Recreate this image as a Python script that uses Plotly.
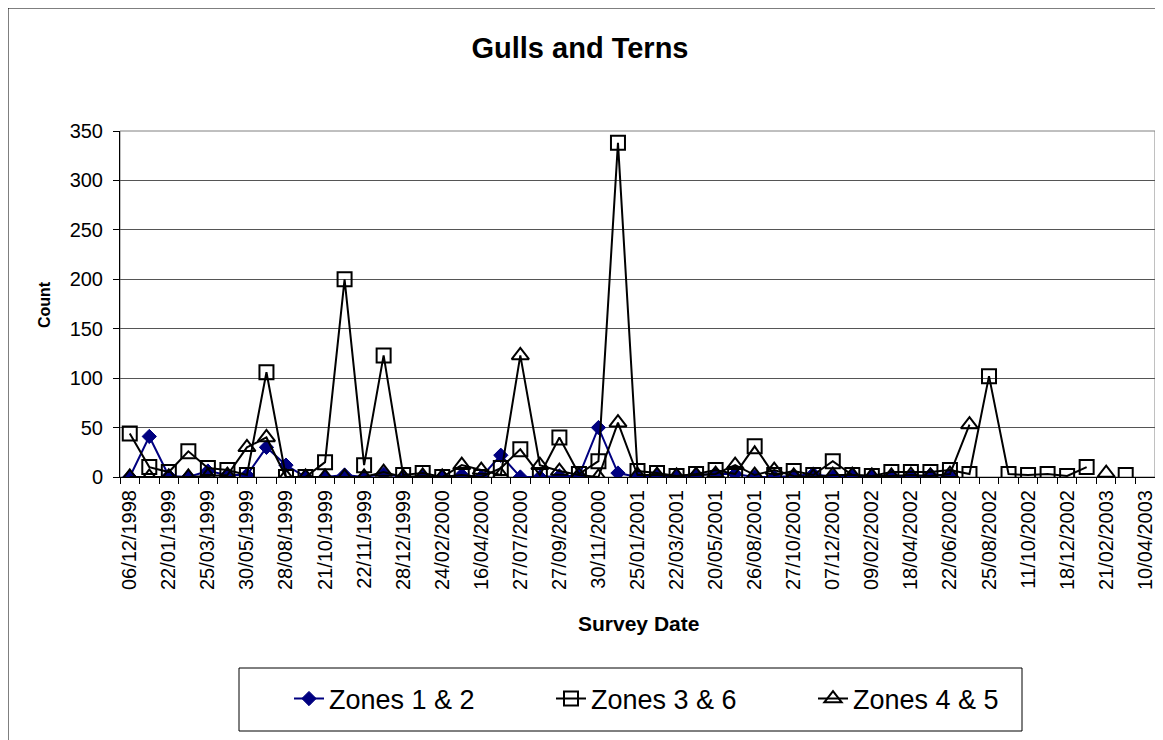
import plotly.graph_objects as go

survey_dates = [
    "06/12/1998", "31/12/1998", "22/01/1999", "21/02/1999", "25/03/1999", "26/04/1999",
    "30/05/1999", "30/06/1999", "28/08/1999", "22/09/1999", "21/10/1999", "07/11/1999",
    "22/11/1999", "05/12/1999", "28/12/1999", "27/01/2000", "24/02/2000", "20/03/2000",
    "16/04/2000", "18/06/2000", "27/07/2000", "28/08/2000", "27/09/2000", "29/10/2000",
    "30/11/2000", "20/12/2000", "25/01/2001", "22/02/2001", "22/03/2001", "23/04/2001",
    "20/05/2001", "24/07/2001", "26/08/2001", "25/09/2001", "27/10/2001", "19/11/2001",
    "07/12/2001", "10/01/2002", "09/02/2002", "14/03/2002", "18/04/2002", "20/05/2002",
    "22/06/2002", "27/07/2002", "25/08/2002", "20/09/2002", "11/10/2002", "15/11/2002",
    "18/12/2002", "20/01/2003", "21/02/2003", "15/03/2003", "10/04/2003",
]

zones_1_2 = [
    0, 41, 1, 0, 6, 2, 2, 30, 12, 0, 0, 2, 0, 3, 0, 0, 0, 2, 0, 22,
    0, 0, 1, 1, 50, 4, 0, 1, 0, 2, 3, 3, 0, 0, 1, 3, 0, 1, 0, 1,
    0, 2, 1, None, None, None, None, None, None, None, None, None, None,
]

zones_3_6 = [
    44, 10, 5, 26, 9, 7, 2, 106, 0, 0, 15, 200, 12, 123, 2, 4, 0, 2, 0, 9,
    28, 2, 40, 3, 16, 338, 6, 4, 1, 3, 7, 3, 31, 2, 6, 2, 16, 2, 1, 5,
    5, 5, 7, 3, 102, 3, 2, 3, 1, 10, None, 2, None,
]

zones_4_5 = [
    0, 0, 0, 0, 1, 2, 30, 40, 0, 0, 0, 0, 0, 5, 0, 1, 0, 12, 7, 2,
    123, 12, 6, 2, 0, 55, 2, 2, 1, 2, 3, 12, 2, 7, 1, 0, 2, 2, 1, 1,
    2, 1, 3, 53, None, None, None, None, None, None, 4, None, None,
]

tick_text = [d if i % 2 == 0 else "" for i, d in enumerate(survey_dates)]

FONT = "Arial, Liberation Sans, sans-serif"

# the page body adds an 8px margin; work in page pixels and convert
OFF = 8
PAGE_W, PAGE_H = 1163, 740
W, H = PAGE_W - OFF, PAGE_H - OFF
L, R, T, B = 120 - OFF, 1155 - OFF, 131 - OFF, 477 - OFF
pw, ph = R - L, B - T


def px_x(x):
    return (x - OFF - L) / pw


def px_y(y):
    return (B - (y - OFF)) / ph


fig = go.Figure()

fig.add_trace(go.Scatter(
    x=survey_dates, y=zones_1_2, name="Zones 1 & 2", mode="lines+markers",
    line=dict(color="#000080", width=2),
    marker=dict(symbol="diamond", size=11, color="#000080",
                line=dict(color="#000080", width=1)),
))
fig.add_trace(go.Scatter(
    x=survey_dates, y=zones_3_6, name="Zones 3 & 6", mode="lines+markers",
    line=dict(color="black", width=2),
    marker=dict(symbol="square-open", size=14, color="black",
                line=dict(color="black", width=2)),
))
fig.add_trace(go.Scatter(
    x=survey_dates, y=zones_4_5, name="Zones 4 & 5", mode="lines+markers",
    line=dict(color="black", width=2),
    marker=dict(symbol="triangle-up-open", size=15, color="black",
                line=dict(color="black", width=2)),
))

fig.update_layout(
    width=W, height=H,
    margin=dict(l=L, r=W - R, t=T, b=H - B, autoexpand=False),
    paper_bgcolor="white", plot_bgcolor="white",
    font=dict(family=FONT, color="black", size=20),
    title=dict(text="<b>Gulls and Terns</b>", x=(580 - OFF) / W, xanchor="center",
               y=1 - (48 - OFF) / H, yanchor="middle", yref="container",
               font=dict(size=29, family=FONT, color="black")),
    showlegend=True,
    legend=dict(orientation="h", x=px_x(289), xanchor="left",
                y=px_y(699), yanchor="middle", bgcolor="rgba(0,0,0,0)",
                borderwidth=0, font=dict(size=27, family=FONT, color="black"),
                entrywidth=217, entrywidthmode="pixels"),
    xaxis=dict(
        type="category", categoryorder="array", categoryarray=survey_dates,
        range=[-0.5, len(survey_dates) - 0.5],
        tickmode="array", tickvals=survey_dates, ticktext=tick_text,
        tickson="boundaries", ticks="outside", ticklen=6, tickcolor="black",
        tickangle=-90, tickfont=dict(size=20, family=FONT, color="black"),
        ticklabelstandoff=4,
        showline=True, linecolor="black", linewidth=1,
        showgrid=False, zeroline=False, automargin=False,
    ),
    yaxis=dict(
        range=[0, 350], dtick=50, tick0=0,
        ticks="outside", ticklen=6, tickcolor="black",
        tickfont=dict(size=20, family=FONT, color="black"),
        ticklabelstandoff=6,
        showline=True, linecolor="black", linewidth=1,
        showgrid=True, gridcolor="#555555", gridwidth=1,
        zeroline=False, automargin=False,
    ),
    shapes=[
        # outer chart border
        dict(type="rect", xref="paper", yref="paper",
             x0=px_x(8), x1=px_x(1158), y0=px_y(745), y1=px_y(8),
             line=dict(color="black", width=1), fillcolor="rgba(0,0,0,0)", layer="below"),
        # plot area border
        dict(type="rect", xref="paper", yref="paper", x0=0, x1=1, y0=0, y1=1,
             line=dict(color="#808080", width=1), fillcolor="rgba(0,0,0,0)", layer="below"),
        # legend box
        dict(type="rect", xref="paper", yref="paper",
             x0=px_x(239), x1=px_x(1022), y0=px_y(731), y1=px_y(668),
             line=dict(color="black", width=1), fillcolor="white", layer="below"),
    ],
    annotations=[
        dict(text="<b>Count</b>", xref="paper", yref="paper", x=px_x(44), y=px_y(305),
             xanchor="center", yanchor="middle", textangle=-90, showarrow=False,
             font=dict(size=16, family=FONT, color="black")),
        dict(text="<b>Survey Date</b>", xref="paper", yref="paper", x=px_x(638), y=px_y(623),
             xanchor="center", yanchor="middle", showarrow=False,
             font=dict(size=21, family=FONT, color="black")),
    ],
)

fig.write_html("out.html")
